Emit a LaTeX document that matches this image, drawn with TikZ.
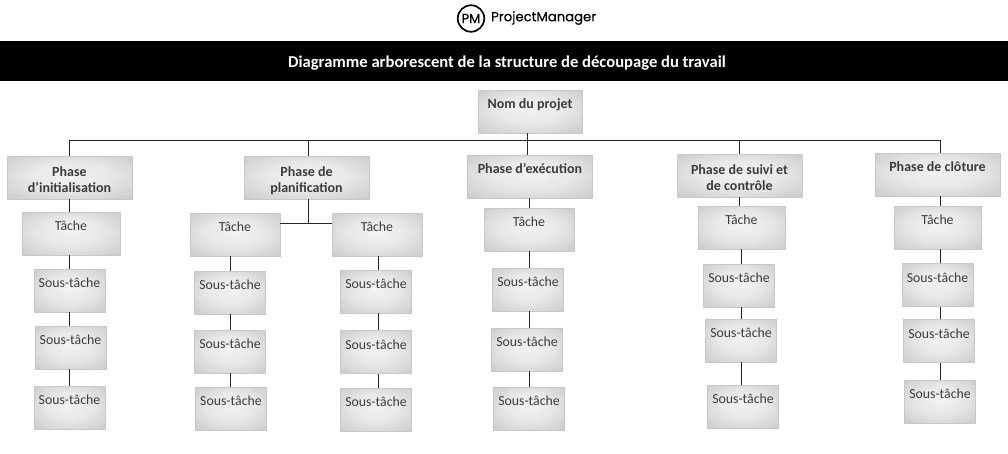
\documentclass[tikz,border=0pt]{standalone}
\usepackage{fontspec}
\usepackage{xcolor}
\setmainfont{Carlito}
\newfontfamily\logofont[FakeBold=0.35]{Poppins}
\newfontfamily\badgefont[FakeBold=0.9]{Poppins}
\usetikzlibrary{calc}
\definecolor{ink}{HTML}{3C3C3C}
\definecolor{edge}{HTML}{C8C8C8}
\pgfdeclareradialshading{boxshade}{\pgfpoint{0bp}{3bp}}{
  color(0bp)=(white!95!black);
  color(16bp)=(white!91!black);
  color(30bp)=(white!83!black);
  color(50bp)=(white!72!black)}
\newcommand{\oneline}[1]{\rule{0pt}{15pt}#1\\\strut}
\newcommand{\twolines}[2]{\rule{0pt}{19pt}#1\\#2\strut}
\tikzset{
  x=1pt, y=-1pt,
  wbs/.style={draw=edge, line width=0.8pt, shading=boxshade, align=center, text=ink,
    inner sep=0pt, minimum height=43pt, font=\fontsize{13.8}{16}\selectfont},
  root/.style={wbs, minimum width=104pt, font=\fontsize{14}{16}\selectfont\bfseries},
  phase/.style={wbs, minimum width=125pt, font=\fontsize{14}{16}\selectfont\bfseries},
  task/.style={wbs},
  sub/.style={wbs, minimum width=71pt},
  link/.style={draw=black!85, line width=0.9pt}
}

\begin{document}
\begin{tikzpicture}
  \useasboundingbox (0,0) rectangle (1008,453);

  % header
  \node[circle, draw=black, line width=1.7pt, inner sep=0pt, minimum size=26.5pt,
    font=\badgefont\fontsize{13}{13}\selectfont] (logo) at (471,18.5) {PM};
  \node[anchor=west, inner sep=0pt, font=\logofont\fontsize{13.2}{13.2}\selectfont] (brand) at (491,18) {ProjectManager};
  \fill[black] (0,41) rectangle (1008,81);
  \node[text=white, inner sep=0pt, font=\fontsize{16.6}{16.6}\selectfont\bfseries] (title) at (507,63.5)
    {Diagramme arborescent de la structure de découpage du travail};

  % top level
  \node[root] (project) at (530,111.5) {\oneline{Nom du projet}};
  \node[phase] (init) at (69.5,177.5) {\twolines{Phase}{d’initialisation}};
  \node[phase] (plan) at (306.5,177.5) {\twolines{Phase de}{planification}};
  \node[phase] (exec) at (530,176.5) {\oneline{Phase d’exécution}};
  \node[phase] (ctrl) at (739.5,175.5) {\twolines{Phase de suivi et}{de contrôle}};
  \node[phase] (clos) at (937.5,174.5) {\oneline{Phase de clôture}};

  % tasks
  \node[task, minimum width=98pt] (taskA) at (71,233.5) {\oneline{Tâche}};
  \node[task, minimum width=90pt] (taskB) at (235,234.5) {\oneline{Tâche}};
  \node[task, minimum width=90pt] (taskC) at (377,234.5) {\oneline{Tâche}};
  \node[task, minimum width=90pt] (taskD) at (529,229.5) {\oneline{Tâche}};
  \node[task, minimum width=87pt] (taskE) at (741.5,227.5) {\oneline{Tâche}};
  \node[task, minimum width=87pt] (taskF) at (937.5,227.5) {\oneline{Tâche}};

  % sub tasks
  \node[sub] (subA1) at (69.5,290.5) {\oneline{Sous-tâche}};
  \node[sub] (subA2) at (70.5,347.5) {\oneline{Sous-tâche}};
  \node[sub] (subA3) at (69.5,407.5) {\oneline{Sous-tâche}};
  \node[sub] (subB1) at (230,292.5) {\oneline{Sous-tâche}};
  \node[sub] (subB2) at (230,351.5) {\oneline{Sous-tâche}};
  \node[sub] (subB3) at (231,408.5) {\oneline{Sous-tâche}};
  \node[sub] (subC1) at (376,291.5) {\oneline{Sous-tâche}};
  \node[sub] (subC2) at (376,352) {\oneline{Sous-tâche}};
  \node[sub] (subC3) at (376,409.5) {\oneline{Sous-tâche}};
  \node[sub] (subD1) at (528,289.5) {\oneline{Sous-tâche}};
  \node[sub] (subD2) at (527,349.5) {\oneline{Sous-tâche}};
  \node[sub] (subD3) at (529,408.5) {\oneline{Sous-tâche}};
  \node[sub] (subE1) at (739,285.5) {\oneline{Sous-tâche}};
  \node[sub] (subE2) at (741,340.5) {\oneline{Sous-tâche}};
  \node[sub] (subE3) at (743,406.5) {\oneline{Sous-tâche}};
  \node[sub] (subF1) at (937.5,285) {\oneline{Sous-tâche}};
  \node[sub] (subF2) at (939,341) {\oneline{Sous-tâche}};
  \node[sub] (subF3) at (940,401.5) {\oneline{Sous-tâche}};

  % connectors
  \coordinate (bus) at (527,140.5);
  \coordinate (fork) at (308.5,223.5);
  \coordinate (colA) at (69.8,0);
  \coordinate (colB) at (230.3,0);
  \coordinate (colC) at (378,0);
  \coordinate (colD) at (529.8,0);
  \coordinate (colE) at (741.7,0);
  \coordinate (colF) at (940.7,0);

  \draw[link] (project.south -| bus) -- (bus);
  \draw[link] (bus) -| (init.north -| colA);
  \draw[link] (bus) -| (plan.north -| fork);
  \draw[link] (bus) -- (exec.north -| bus);
  \draw[link] (bus) -| ([xshift=-0.5pt]ctrl.north);
  \draw[link] (bus) -| (clos.north -| colF);

  \draw[link] (init.south -| colA) -- (taskA.north -| colA);
  \draw[link] (plan.south -| fork) -- (fork);
  \draw[link] (taskB.east |- fork) -- (taskC.west |- fork);
  \draw[link] (exec.south -| taskD) -- (taskD.north);
  \draw[link] (ctrl.south) -- (taskE.north -| ctrl.south);
  \draw[link] (clos.south -| colF) -- (taskF.north -| colF);

  \foreach \col in {A,B,C,D,E,F}{
    \draw[link] (task\col.south -| col\col) -- (sub\col1.north -| col\col);
    \draw[link] (sub\col1.south -| col\col) -- (sub\col2.north -| col\col);
    \draw[link] (sub\col2.south -| col\col) -- (sub\col3.north -| col\col);
  }
\end{tikzpicture}
\end{document}
